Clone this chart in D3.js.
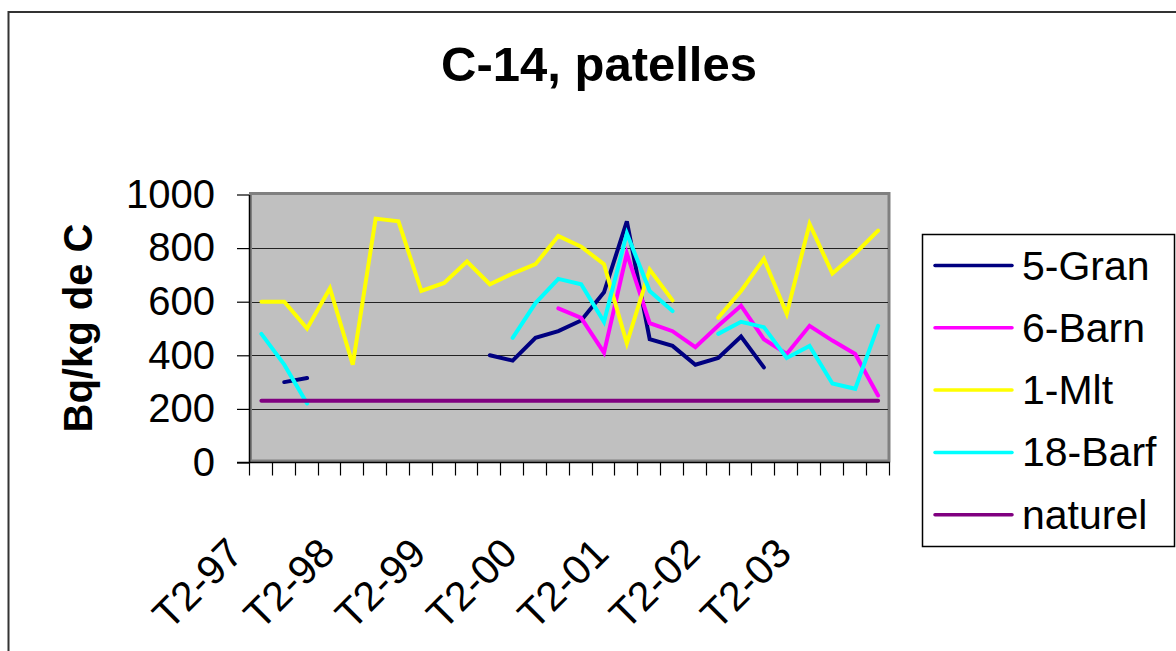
<!DOCTYPE html>
<html>
<head>
<meta charset="utf-8">
<script src="https://cdn.jsdelivr.net/npm/d3@7/dist/d3.min.js"></script>
<style>
  html, body { margin: 0; padding: 0; background: #fff; }
  svg { display: block; font-family: "Liberation Sans", Arial, sans-serif; }
</style>
</head>
<body>
<svg id="chart" width="1176" height="651"></svg>
<script>
// Quarterly categories, T2-97 .. T1-04
const categories = [
  "T2-97","T3-97","T4-97","T1-98","T2-98","T3-98","T4-98","T1-99",
  "T2-99","T3-99","T4-99","T1-00","T2-00","T3-00","T4-00","T1-01",
  "T2-01","T3-01","T4-01","T1-02","T2-02","T3-02","T4-02","T1-03",
  "T2-03","T3-03","T4-03","T1-04"
];

// C-14 activity, Bq/kg de C (null = no sample)
const gran = [null, 300, 315, null, null, null, null, null, null, null,
  400, 380, 465, 490, 530, 635, 900, 460, 435, 365, 390, 470, 355,
  null, null, null, null, null];
const barn = [null, null, null, null, null, null, null, null, null, null,
  null, null, null, 575, 540, 410, 780, 520, 490, 430, 510, 585, 460,
  405, 510, 455, 405, 250];
const mlt = [600, 600, 500, 650, 365, 910, 900, 640, 670, 750,
  665, 705, 740, 845, 805, 740, 445, 720, 605, null, 540, 640, 760,
  555, 890, 705, 780, 865];
const barf = [480, 365, 220, null, null, null, null, null, null, null,
  null, 465, 595, 685, 665, 525, 855, 640, 565, null, 480, 525, 505,
  390, 435, 295, 275, 510];
const naturel = [230, 230, 230, 230, 230, 230, 230, 230, 230, 230,
  230, 230, 230, 230, 230, 230, 230, 230, 230, 230, 230, 230, 230,
  230, 230, 230, 230, 230];

const seriesNames = ["5-Gran", "6-Barn", "1-Mlt", "18-Barf", "naturel"];
const seriesValues = [gran, barn, mlt, barf, naturel];
const seriesColors = ["#000080", "#FF00FF", "#FFFF00", "#00FFFF", "#800080"];

const yTicks = [0, 200, 400, 600, 800, 1000];
const labelEvery = 4;

const svg = d3.select("#chart");

// outer chart frame
svg.append("rect")
  .attr("x", 8.5).attr("y", 12)
  .attr("width", 1180).attr("height", 660)
  .attr("fill", "#fff").attr("stroke", "#333").attr("stroke-width", 2);

const plot = { left: 249, right: 889, top: 194.5, bottom: 462.5 };

const x = d3.scaleBand().domain(categories).range([plot.left + 1, plot.right + 0.5]);
const y = d3.scaleLinear().domain([0, 1000]).range([plot.bottom, plot.top]);
const cx = c => x(c) + x.bandwidth() / 2;

// plot area
svg.append("rect")
  .attr("x", plot.left + 1.5).attr("y", plot.top - 1)
  .attr("width", plot.right - plot.left - 1.5).attr("height", plot.bottom - plot.top - 0.5)
  .attr("fill", "#C0C0C0").attr("stroke", "#808080").attr("stroke-width", 3);

// horizontal gridlines
svg.append("g").selectAll("line")
  .data(yTicks.filter(v => v > 0 && v < 1000))
  .join("line")
  .attr("x1", plot.left + 3).attr("x2", plot.right - 1)
  .attr("y1", d => Math.round(y(d)) + 0.5).attr("y2", d => Math.round(y(d)) + 0.5)
  .attr("stroke", "#222").attr("stroke-width", 1.2);

// y axis
const yAxis = svg.append("g")
  .attr("transform", `translate(${plot.left},0)`)
  .call(d3.axisLeft(y).tickValues(yTicks).tickFormat(d3.format("d"))
    .tickSize(12).tickPadding(22).tickSizeOuter(0));
yAxis.select(".domain").attr("stroke", "#000").attr("stroke-width", 1.5);
yAxis.selectAll(".tick line").attr("stroke", "#000").attr("stroke-width", 1.2);
yAxis.selectAll(".tick text")
  .attr("font-size", 40).attr("fill", "#000")
  .attr("font-family", "Liberation Sans, Arial, sans-serif");

// x axis line and category boundary ticks
svg.append("line")
  .attr("x1", plot.left - 12).attr("x2", plot.right + 1)
  .attr("y1", plot.bottom).attr("y2", plot.bottom)
  .attr("stroke", "#000").attr("stroke-width", 1.5);
const bounds = categories.map(c => x(c)).concat([x.range()[1]]);
svg.append("g").selectAll("line")
  .data(bounds)
  .join("line")
  .attr("x1", d => Math.round(d) - 0.5).attr("x2", d => Math.round(d) - 0.5)
  .attr("y1", plot.bottom).attr("y2", plot.bottom + 13)
  .attr("stroke", "#000").attr("stroke-width", 1.2);

// rotated category labels
svg.append("g").selectAll("text")
  .data(categories.filter((c, i) => i % labelEvery === 0))
  .join("text")
  .attr("transform", d => `translate(${cx(d) - 16},${plot.bottom + 93}) rotate(-45)`)
  .attr("text-anchor", "end")
  .attr("font-size", 41).attr("fill", "#000")
  .text(d => d);

// series lines
const line = d3.line()
  .defined(d => d.v != null)
  .x(d => cx(d.c))
  .y(d => y(d.v));

seriesValues.forEach((vals, k) => {
  svg.append("path")
    .datum(vals.map((v, i) => ({ c: categories[i], v })))
    .attr("d", line)
    .attr("fill", "none")
    .attr("stroke", seriesColors[k])
    .attr("stroke-width", 4)
    .attr("stroke-linejoin", "miter")
    .attr("stroke-linecap", "round");
});

// title
svg.append("text")
  .attr("x", 599).attr("y", 81)
  .attr("text-anchor", "middle")
  .attr("font-size", 49).attr("font-weight", "bold").attr("fill", "#000")
  .text("C-14, patelles");

// y axis title
svg.append("text")
  .attr("transform", "translate(92,328) rotate(-90)")
  .attr("text-anchor", "middle")
  .attr("font-size", 40).attr("font-weight", "bold").attr("fill", "#000")
  .text("Bq/kg de C");

// legend
const legend = svg.append("g");
legend.append("rect")
  .attr("x", 922.5).attr("y", 234.5).attr("width", 252).attr("height", 312)
  .attr("fill", "#fff").attr("stroke", "#000").attr("stroke-width", 1.5);
const items = legend.selectAll("g.item")
  .data(seriesNames)
  .join("g")
  .attr("class", "item")
  .attr("transform", (d, i) => `translate(0,${265.5 + i * 62.3})`);
items.append("line")
  .attr("x1", 935).attr("x2", 1012)
  .attr("stroke", (d, i) => seriesColors[i])
  .attr("stroke-width", 3.5).attr("stroke-linecap", "round");
items.append("text")
  .attr("x", 1022).attr("y", 14)
  .attr("font-size", 41).attr("fill", "#000")
  .text(d => d);
</script>
</body>
</html>
